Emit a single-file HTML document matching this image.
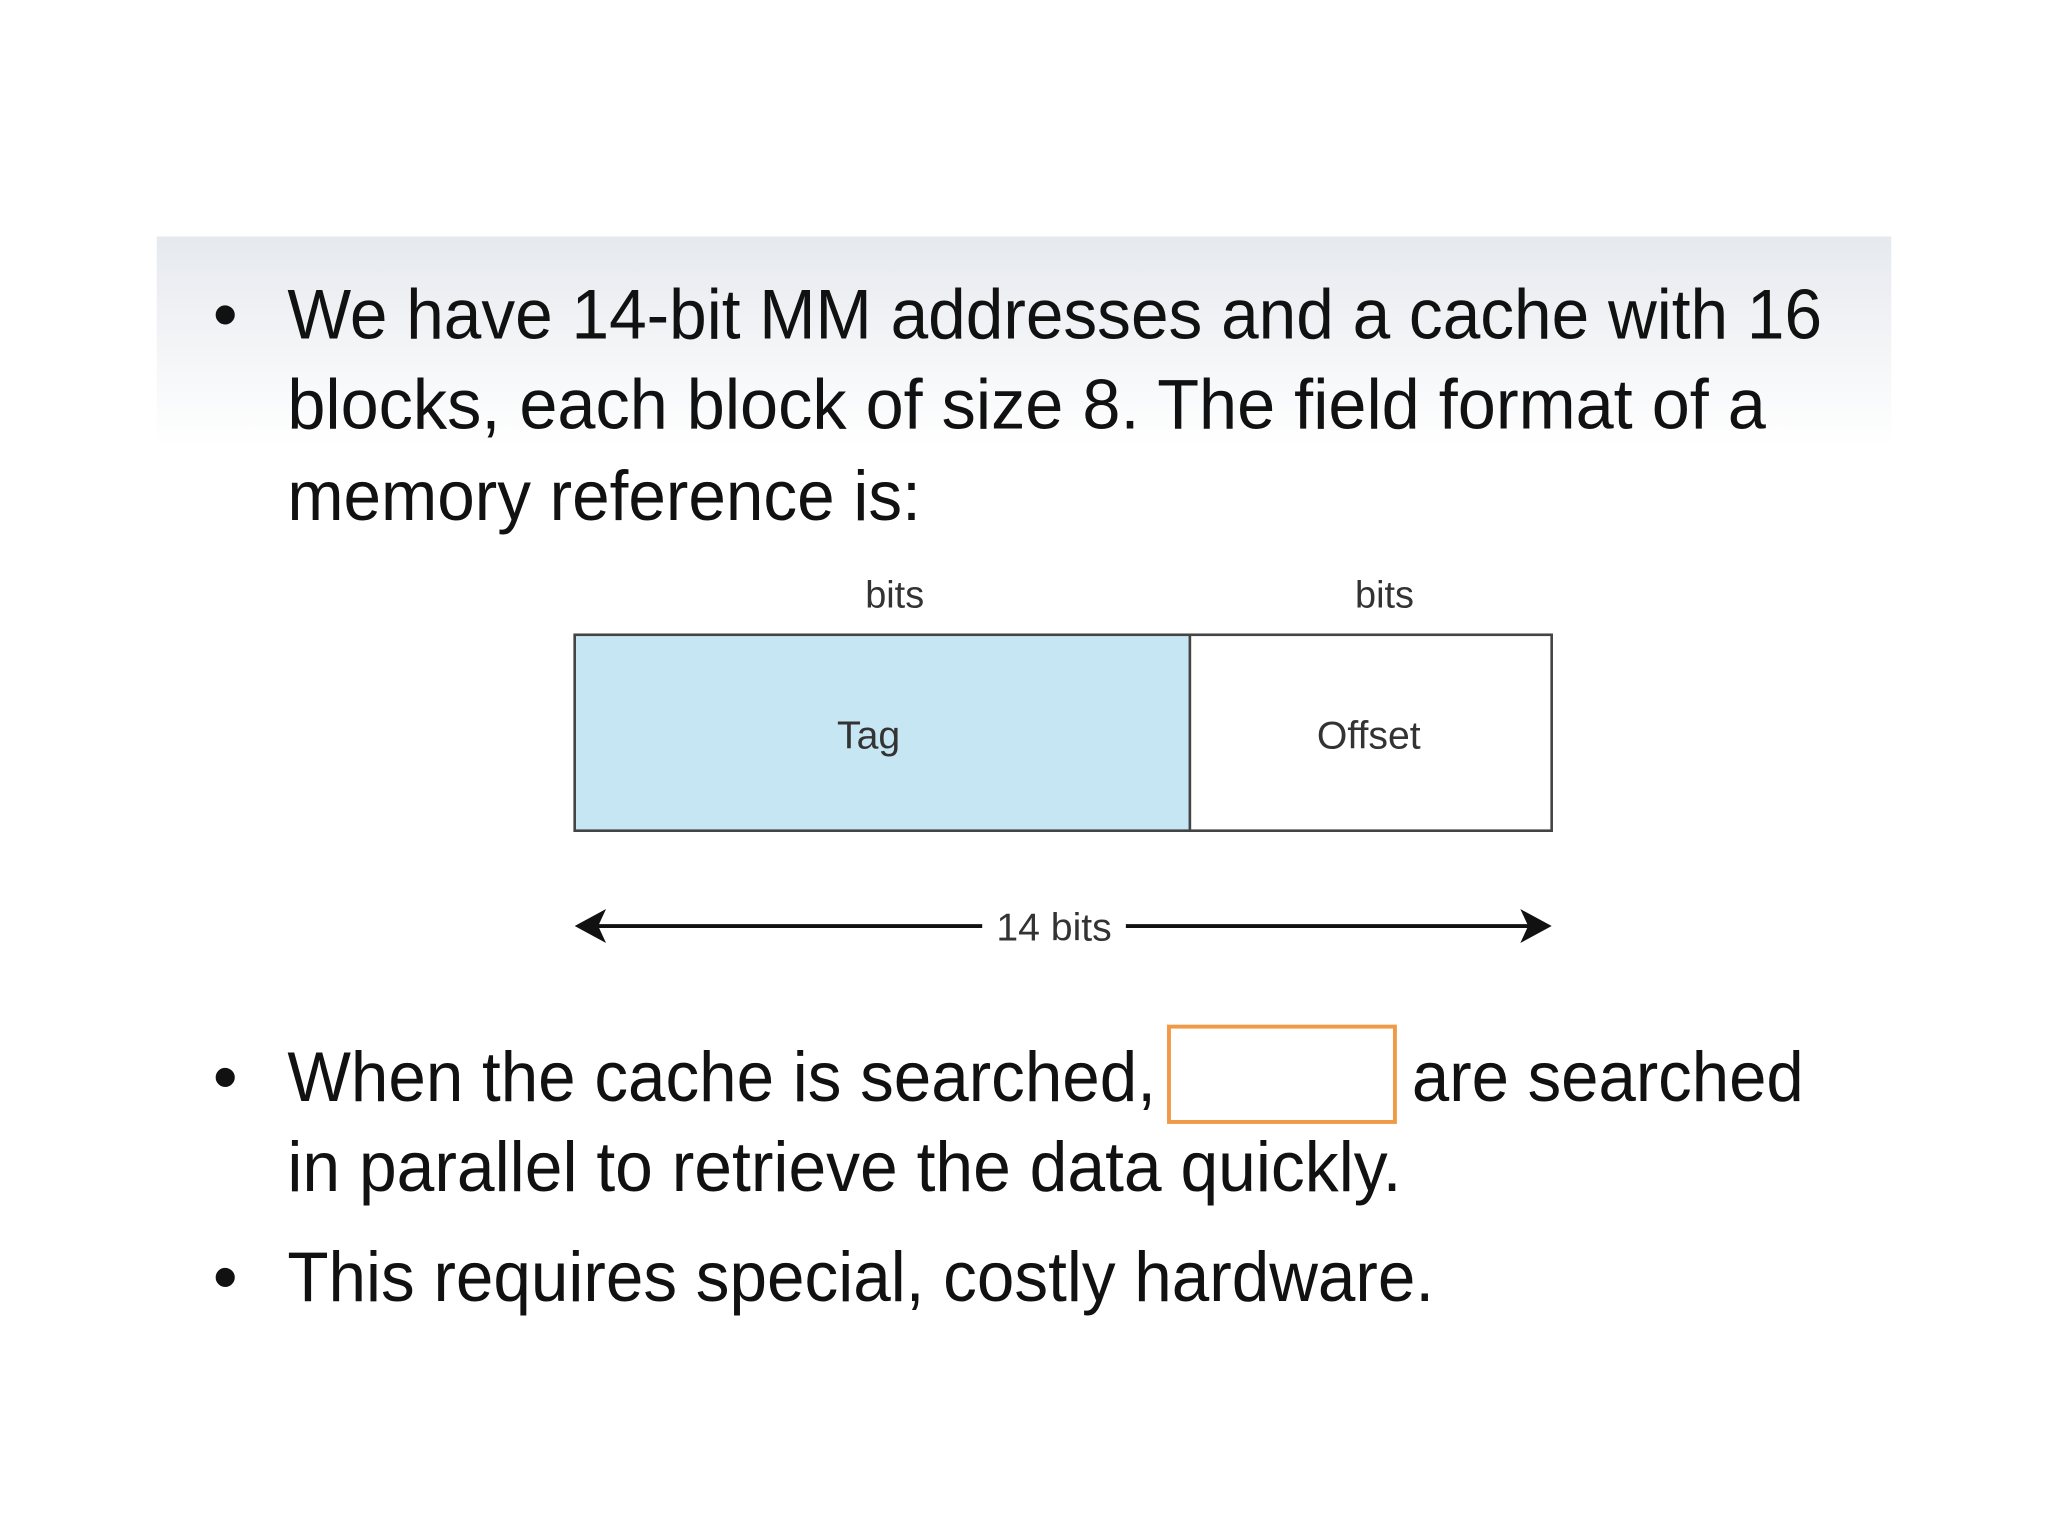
<!DOCTYPE html>
<html><head><meta charset="utf-8"><style>html,body{margin:0;padding:0;background:#fff}svg{display:block}</style></head>
<body>
<svg width="2048" height="1536" viewBox="0 0 1568 1176" xmlns="http://www.w3.org/2000/svg" font-family="Liberation Sans, sans-serif">
<defs>
<linearGradient id="g" x1="0" y1="0" x2="0" y2="1">
<stop offset="0" stop-color="#e6e9ee"/><stop offset="1" stop-color="#ffffff"/>
</linearGradient>
</defs>
<rect width="1568" height="1176" fill="#fff"/>
<rect x="120" y="181" width="1328" height="160" fill="url(#g)"/>
<g font-size="54" fill="#111">
<text x="163" y="259">•</text>
<text x="220" y="259" textLength="1175" lengthAdjust="spacingAndGlyphs">We have 14-bit MM addresses and a cache with 16</text>
<text x="220" y="328" textLength="1132" lengthAdjust="spacingAndGlyphs">blocks, each block of size 8.  The field format of a</text>
<text x="220" y="398" textLength="485" lengthAdjust="spacingAndGlyphs">memory reference is:</text>
<text x="163" y="843">•</text>
<text x="220" y="843" textLength="665" lengthAdjust="spacingAndGlyphs">When the cache is searched,</text>
<text x="1081" y="843" textLength="300" lengthAdjust="spacingAndGlyphs">are searched</text>
<text x="220" y="912" textLength="853" lengthAdjust="spacingAndGlyphs">in parallel to retrieve the data quickly.</text>
<text x="163" y="996">•</text>
<text x="220" y="996" textLength="878" lengthAdjust="spacingAndGlyphs">This requires special, costly hardware.</text>
</g>
<g font-size="29" fill="#333" text-anchor="middle">
<text x="685" y="465">bits</text>
<text x="1060" y="465">bits</text>
</g>
<rect x="440" y="486" width="471" height="150" fill="#c6e6f4"/>
<rect x="440" y="486" width="748" height="150" fill="none" stroke="#444" stroke-width="2"/>
<line x1="911" y1="486" x2="911" y2="636" stroke="#444" stroke-width="2"/>
<g font-size="30" fill="#333" text-anchor="middle">
<text x="665" y="573">Tag</text>
<text x="1048" y="573">Offset</text>
<text x="807" y="720">14 bits</text>
</g>
<line x1="450" y1="709" x2="752" y2="709" stroke="#111" stroke-width="3"/>
<line x1="862" y1="709" x2="1178" y2="709" stroke="#111" stroke-width="3"/>
<path d="M440 709 L464 696 L458 709 L464 722 Z" fill="#111"/>
<path d="M1188 709 L1164 696 L1170 709 L1164 722 Z" fill="#111"/>
<rect x="895" y="786" width="173" height="73" fill="none" stroke="#f09a48" stroke-width="3"/>
</svg>
</body></html>
